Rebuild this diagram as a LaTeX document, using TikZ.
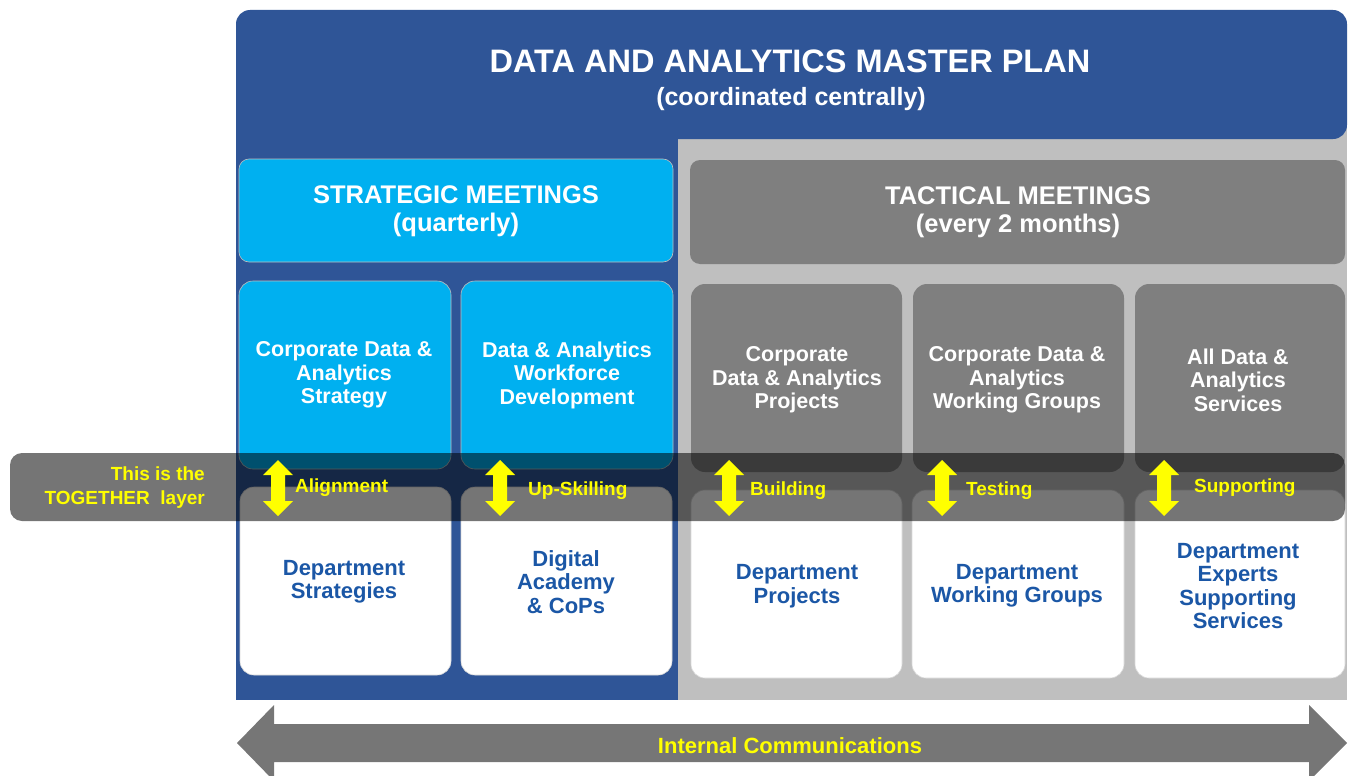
\documentclass[tikz,border=0pt]{standalone}
\usepackage{fontspec}
\setmainfont{Liberation Sans}
\definecolor{dblue}{HTML}{2F5597}
\definecolor{scyan}{HTML}{00B0F0}
\definecolor{lgrey}{HTML}{BFBFBF}
\definecolor{mgrey}{HTML}{7F7F7F}
\definecolor{tblue}{HTML}{1B57A6}
\definecolor{agrey}{HTML}{767676}
\definecolor{yel}{HTML}{FFFF00}
\begin{document}
\begin{tikzpicture}[x=1pt,y=-1pt,
  cyanbox/.style={fill=scyan, draw=gray!50, line width=0.6pt, rounded corners=14pt},
  greybox/.style={fill=mgrey, rounded corners=14pt},
  whitebox/.style={fill=white, draw=gray!30, line width=0.6pt, rounded corners=14pt},
  hdr/.style={font=\bfseries\fontsize{25.5}{28}\selectfont, text=white, align=center, inner sep=0pt},
  uptxt/.style={font=\bfseries\fontsize{21.5}{23.5}\selectfont, align=center, inner sep=0pt, text=white},
  lowtxt/.style={font=\bfseries\fontsize{22}{23.5}\selectfont, align=center, inner sep=0pt, text=tblue},
  lbl/.style={font=\bfseries\fontsize{19}{20}\selectfont, text=yel, anchor=west, inner sep=0pt},
  yarrow/.style={fill=yel}
]
\useasboundingbox (0,0) rectangle (1349,776);
\clip (0,0) rectangle (1349,776);
% background panels
\fill[lgrey] (678,120) rectangle (1347,700);
\fill[dblue] (236,100) rectangle (678,700);
\fill[dblue, rounded corners=14pt] (236,10) rectangle (1347,139);
% title
\node[font=\bfseries\fontsize{32.5}{36}\selectfont, text=white, inner sep=0pt] (title) at (790,61) {DATA AND ANALYTICS MASTER PLAN};
\node[font=\bfseries\fontsize{25}{27}\selectfont, text=white, inner sep=0pt] (subtitle) at (791,99) {(coordinated centrally)};
% headers
\node[cyanbox, rounded corners=10pt, minimum width=434pt, minimum height=103pt] (strat) at (456,210.5) {};
\node[hdr] (strattxt) at (456,211) {STRATEGIC MEETINGS\\(quarterly)};
\node[greybox, rounded corners=10pt, minimum width=655pt, minimum height=104pt] (tact) at (1017.5,212) {};
\node[hdr] (tacttxt) at (1018,212) {TACTICAL MEETINGS\\(every 2 months)};
% upper boxes
\node[cyanbox, minimum width=212pt, minimum height=188pt] (u1) at (345,375) {};
\node[cyanbox, minimum width=212pt, minimum height=188pt] (u2) at (567,375) {};
\node[greybox, minimum width=211pt, minimum height=188pt] (u3) at (796.5,378) {};
\node[greybox, minimum width=211pt, minimum height=188pt] (u4) at (1018.5,378) {};
\node[greybox, minimum width=210pt, minimum height=188pt] (u5) at (1240,378) {};
\node[uptxt] (u1t) at (344,375) {Corporate Data \&\\Analytics\\Strategy};
\node[uptxt] (u2t) at (567,375) {Data \& Analytics\\Workforce\\Development};
\node[uptxt] (u3t) at (797,380) {Corporate\\Data \& Analytics\\Projects};
\node[uptxt] (u4t) at (1017,380) {Corporate Data \&\\Analytics\\Working Groups};
\node[uptxt] (u5t) at (1238,380) {All Data \&\\Analytics\\Services};
% lower boxes
\node[whitebox, minimum width=211pt, minimum height=188pt] (l1) at (345.5,581) {};
\node[whitebox, minimum width=211pt, minimum height=188pt] (l2) at (566.5,581) {};
\node[whitebox, minimum width=211pt, minimum height=188pt] (l3) at (796.5,584) {};
\node[whitebox, minimum width=212pt, minimum height=188pt] (l4) at (1018,584) {};
\node[whitebox, minimum width=210pt, minimum height=188pt] (l5) at (1240,584) {};
\node[lowtxt] (l1t) at (344,582) {Department\\Strategies};
\node[lowtxt] (l2t) at (566,582) {Digital\\Academy\\\& CoPs};
\node[lowtxt] (l3t) at (797,586) {Department\\Projects};
\node[lowtxt] (l4t) at (1017,586) {Department\\Working Groups};
\node[lowtxt] (l5t) at (1238,586) {Department\\Experts\\Supporting\\Services};
% together band
\fill[black, opacity=0.54, rounded corners=12pt] (10,453) rectangle (1345,521);
\node[font=\bfseries\fontsize{19}{24}\selectfont, text=yel, align=right, anchor=east, inner sep=0pt] (together) at (205,488) {This is the\\TOGETHER\ \ layer};
% yellow double arrows
\foreach \xx/\nm in {278/a1,500/a2,729/a3,942/a4,1164/a5}{
  \coordinate (\nm) at (\xx,488);
  \fill[yarrow] (\xx,460) -- ++(15,15) -- ++(-8,0) -- ++(0,26) -- ++(8,0) -- (\xx,516) -- ++(-15,-15) -- ++(8,0) -- ++(0,-26) -- ++(-8,0) -- cycle;
}
\node[lbl] (lb1) at (295,488) {Alignment};
\node[lbl] (lb2) at (528,491) {Up-Skilling};
\node[lbl] (lb3) at (750,491) {Building};
\node[lbl] (lb4) at (966,491) {Testing};
\node[lbl] (lb5) at (1194,488) {Supporting};
% bottom arrow
\fill[agrey] (237,743) -- (274,705) -- (274,724) -- (1309,724) -- (1309,705) -- (1347,743) -- (1309,781) -- (1309,762) -- (274,762) -- (274,781) -- cycle;
\node[font=\bfseries\fontsize{22}{23}\selectfont, text=yel, inner sep=0pt] (ic) at (790,746) {Internal Communications};
\end{tikzpicture}
\end{document}
